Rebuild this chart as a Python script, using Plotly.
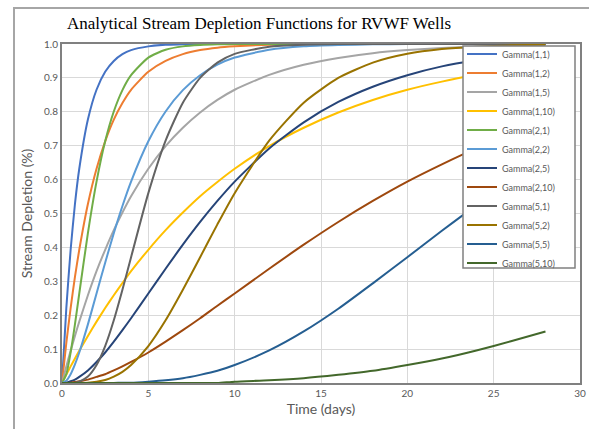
import plotly.graph_objects as go

days = [0, 0.25, 0.5, 0.75, 1, 1.5, 2, 2.5, 3, 3.5, 4, 5, 6, 7, 8, 9, 10,
        12, 14, 16, 18, 20, 22, 24, 26, 28]

g_1_1 = [0, 0.221, 0.393, 0.528, 0.632, 0.777, 0.865, 0.918, 0.950, 0.970, 0.982, 0.993, 0.998, 0.999, 1.0, 1.0, 1.0,
         1.0, 1.0, 1.0, 1.0, 1.0, 1.0, 1.0, 1.0, 1.0]
g_1_2 = [0, 0.118, 0.221, 0.313, 0.393, 0.528, 0.632, 0.713, 0.777, 0.826, 0.865, 0.918, 0.950, 0.970, 0.982, 0.989, 0.993,
         0.998, 0.999, 1.0, 1.0, 1.0, 1.0, 1.0, 1.0, 1.0]
g_1_5 = [0, 0.049, 0.095, 0.139, 0.181, 0.259, 0.330, 0.393, 0.451, 0.503, 0.551, 0.632, 0.699, 0.753, 0.798, 0.835, 0.865,
         0.909, 0.939, 0.959, 0.973, 0.982, 0.988, 0.992, 0.994, 0.996]
g_1_10 = [0, 0.025, 0.049, 0.072, 0.095, 0.139, 0.181, 0.221, 0.259, 0.295, 0.330, 0.393, 0.451, 0.503, 0.551, 0.593, 0.632,
          0.699, 0.753, 0.798, 0.835, 0.865, 0.889, 0.909, 0.926, 0.939]
g_2_1 = [0, 0.026, 0.090, 0.173, 0.264, 0.442, 0.594, 0.713, 0.801, 0.864, 0.908, 0.960, 0.983, 0.993, 0.997, 0.999, 1.0,
         1.0, 1.0, 1.0, 1.0, 1.0, 1.0, 1.0, 1.0, 1.0]
g_2_2 = [0, 0.007, 0.026, 0.055, 0.090, 0.173, 0.264, 0.355, 0.442, 0.522, 0.594, 0.713, 0.801, 0.864, 0.908, 0.939, 0.960,
         0.983, 0.993, 0.997, 0.999, 1.0, 1.0, 1.0, 1.0, 1.0]
g_2_5 = [0, 0.001, 0.005, 0.010, 0.018, 0.037, 0.062, 0.090, 0.122, 0.156, 0.191, 0.264, 0.337, 0.408, 0.475, 0.537, 0.594,
         0.692, 0.769, 0.829, 0.874, 0.908, 0.934, 0.952, 0.966, 0.976]
g_2_10 = [0, 0.0, 0.001, 0.003, 0.005, 0.010, 0.018, 0.026, 0.037, 0.049, 0.062, 0.090, 0.122, 0.156, 0.191, 0.228, 0.264,
          0.337, 0.408, 0.475, 0.537, 0.594, 0.645, 0.692, 0.733, 0.769]
g_5_1 = [0, 0.0, 0.0, 0.001, 0.004, 0.019, 0.053, 0.109, 0.185, 0.275, 0.371, 0.560, 0.715, 0.827, 0.900, 0.945, 0.971,
         0.992, 0.998, 1.0, 1.0, 1.0, 1.0, 1.0, 1.0, 1.0]
g_5_2 = [0, 0.0, 0.0, 0.0, 0.0, 0.001, 0.004, 0.009, 0.019, 0.033, 0.053, 0.109, 0.185, 0.275, 0.371, 0.468, 0.560,
         0.715, 0.827, 0.900, 0.945, 0.971, 0.985, 0.992, 0.996, 0.998]
g_5_5 = [0, 0.0, 0.0, 0.0, 0.0, 0.0, 0.0, 0.0, 0.0, 0.001, 0.001, 0.004, 0.008, 0.014, 0.024, 0.036, 0.053,
         0.096, 0.152, 0.219, 0.294, 0.371, 0.449, 0.524, 0.594, 0.658]
g_5_10 = [0, 0.0, 0.0, 0.0, 0.0, 0.0, 0.0, 0.0, 0.0, 0.0, 0.0, 0.0, 0.0, 0.0, 0.0, 0.0, 0.004,
          0.008, 0.014, 0.024, 0.036, 0.053, 0.072, 0.096, 0.123, 0.152]

names = ["Gamma(1,1)", "Gamma(1,2)", "Gamma(1,5)", "Gamma(1,10)", "Gamma(2,1)", "Gamma(2,2)",
         "Gamma(2,5)", "Gamma(2,10)", "Gamma(5,1)", "Gamma(5,2)", "Gamma(5,5)", "Gamma(5,10)"]
series = [g_1_1, g_1_2, g_1_5, g_1_10, g_2_1, g_2_2, g_2_5, g_2_10, g_5_1, g_5_2, g_5_5, g_5_10]
colors = ["#4472C4", "#ED7D31", "#A5A5A5", "#FFC000", "#70AD47", "#5B9BD5",
          "#264478", "#9E480E", "#636363", "#997300", "#255E91", "#43682B"]

fig = go.Figure()
for n, s, c in zip(names, series, colors):
    fig.add_trace(go.Scatter(x=days, y=s, name=n, mode="lines",
                             line=dict(color=c, width=2, shape="spline", smoothing=0.6)))

L, R, T, B = 62, 9, 44, 46
PW, PH = 589 - L - R, 429 - T - B


def px(xp):
    return (xp - L) / PW


def py(yp):
    return (429 - B - yp) / PH


tickfont = dict(family="Lato", size=10, color="#595959")
titlefont = dict(family="Lato", size=14, color="#595959")
fig.update_layout(
    width=589, height=429,
    margin=dict(l=L, r=R, t=T, b=B),
    paper_bgcolor="white", plot_bgcolor="white",
    title=dict(text="Analytical Stream Depletion Functions for RVWF Wells",
               x=67/589, xanchor="left", y=1-23/429, yanchor="middle",
               font=dict(family="Liberation Serif", size=17, color="#000000")),
    xaxis=dict(range=[0, 30], tickvals=[0, 5, 10, 15, 20, 25, 30], showgrid=True,
               gridcolor="#D9D9D9", gridwidth=1, zeroline=False, automargin=False,
               showline=True, linecolor="#808080", linewidth=2, mirror=True,
               tickfont=tickfont, ticks="",
               title=dict(text="Time (days)", font=titlefont, standoff=6)),
    yaxis=dict(range=[0, 1], dtick=0.1, tickformat=".1f", showgrid=True,
               gridcolor="#D9D9D9", gridwidth=1, zeroline=False, automargin=False,
               showline=True, linecolor="#808080", linewidth=2, mirror=True,
               tickfont=tickfont, ticks="",
               title=dict(text="Stream Depletion (%)", font=titlefont, standoff=8)),
    legend=dict(x=px(462), xanchor="left", y=py(39.5), yanchor="top",
                bgcolor="rgba(0,0,0,0)", borderwidth=0, maxheight=300,
                font=dict(family="Lato", size=9, color="#595959")),
    shapes=[
        dict(type="rect", xref="paper", yref="paper",
             x0=px(14), x1=1.2, y0=-0.3, y1=py(8),
             line=dict(color="#A6A6A6", width=2), layer="below"),
        dict(type="rect", xref="paper", yref="paper",
             x0=px(463), x1=px(575), y0=py(268), y1=py(46),
             line=dict(color="#808080", width=1.5), fillcolor="white", layer="above"),
    ],
)

fig.write_html("out.html", config={"displayModeBar": False},
               post_script="document.body.style.margin='0';")
